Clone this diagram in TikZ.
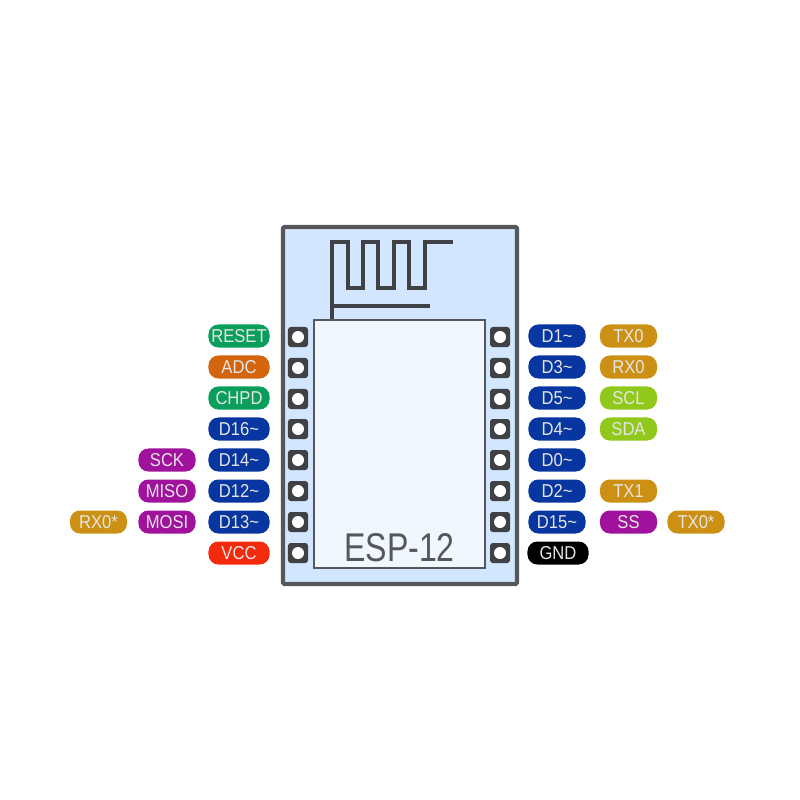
\documentclass[tikz,border=0pt]{standalone}
\usepackage{fontspec}
\setmainfont{Liberation Sans}
\newfontfamily\pinfont[FakeStretch=0.89]{Liberation Sans}
\newfontfamily\titlefont[FakeStretch=0.80]{Liberation Sans}
\usepackage{xcolor}
\definecolor{boardline}{HTML}{55575A}
\definecolor{boardfill}{HTML}{D2E6FF}
\definecolor{chipfill}{HTML}{F1F7FF}
\definecolor{padline}{HTML}{3F4144}
\definecolor{pingreen}{HTML}{0A9E5C}
\definecolor{pinorange}{HTML}{D3650F}
\definecolor{pinblue}{HTML}{0736A0}
\definecolor{pinpurple}{HTML}{A0129C}
\definecolor{pinred}{HTML}{F42A0C}
\definecolor{pingold}{HTML}{CC9014}
\definecolor{pinlime}{HTML}{90C81C}
\tikzset{
  pill/.style={rounded corners=2.8pt, minimum height=0.23cm, inner sep=0pt,
    text=white!90!black, font=\pinfont\fontsize{5.3}{6}\selectfont},
  pinL/.style={pill, minimum width=0.61cm},
  pinR/.style={pill, minimum width=0.57cm},
  pad/.style={fill=padline, minimum size=0.2cm, inner sep=0pt, rounded corners=0.8pt,
    path picture={\fill[white] (path picture bounding box.center) circle (0.06cm);}},
}
\begin{document}
\begin{tikzpicture}[x=0.01cm,y=-0.01cm]
\useasboundingbox (0,0) rectangle (800,800);
\draw[boardline, fill=boardfill, line width=1.2pt, rounded corners=0.4pt] (283,227) rectangle (517,584);
\draw[padline, line width=1.25pt, line join=miter] (332,320) -- (332,242) -- (348,242) -- (348,288) -- (363,288) -- (363,242) -- (378,242) -- (378,288) -- (394,288) -- (394,242) -- (409,242) -- (409,288) -- (425,288) -- (425,242) -- (453,242);
\draw[padline, line width=1.0pt] (332,306) -- (430,306);
\draw[boardline, fill=chipfill, line width=0.7pt] (314,320) rectangle (485,568);
\node (title) at (399.5,548) {\titlefont\fontsize{11.4}{12}\selectfont\color{boardline}ESP-12};

\node[pad] (a1) at (298,337) {};
\node[pad] (a2) at (298,368) {};
\node[pad] (a3) at (298,399) {};
\node[pad] (a4) at (298,429) {};
\node[pad] (a5) at (298,460) {};
\node[pad] (a6) at (298,491) {};
\node[pad] (a7) at (298,522) {};
\node[pad] (a8) at (298,553) {};
\node[pad] (b1) at (500,337) {};
\node[pad] (b2) at (500,368) {};
\node[pad] (b3) at (500,399) {};
\node[pad] (b4) at (500,429) {};
\node[pad] (b5) at (500,460) {};
\node[pad] (b6) at (500,491) {};
\node[pad] (b7) at (500,522) {};
\node[pad] (b8) at (500,553) {};

\node[pinL, fill=pingreen] (reset) at (239,336) {RESET};
\node[pinL, fill=pinorange] (adc) at (239,367) {ADC};
\node[pinL, fill=pingreen] (chpd) at (239,398) {CHPD};
\node[pinL, fill=pinblue] (d16) at (239,429) {D16\textasciitilde};
\node[pinL, fill=pinblue] (d14) at (239,460) {D14\textasciitilde};
\node[pinL, fill=pinblue] (d12) at (239,491) {D12\textasciitilde};
\node[pinL, fill=pinblue] (d13) at (239,522) {D13\textasciitilde};
\node[pinL, fill=pinred] (vcc) at (239,553) {VCC};
\node[pinR, fill=pinpurple] (sck) at (167,460) {SCK};
\node[pinR, fill=pinpurple] (miso) at (167,491) {MISO};
\node[pinR, fill=pinpurple] (mosi) at (167,522) {MOSI};
\node[pinR, fill=pingold] (rxs) at (98.5,522) {RX0*};

\node[pinR, fill=pinblue] (d1) at (557,336) {D1\textasciitilde};
\node[pinR, fill=pinblue] (d3) at (557,367) {D3\textasciitilde};
\node[pinR, fill=pinblue] (d5) at (557,398) {D5\textasciitilde};
\node[pinR, fill=pinblue] (d4) at (557,429) {D4\textasciitilde};
\node[pinR, fill=pinblue] (d0) at (557,460) {D0\textasciitilde};
\node[pinR, fill=pinblue] (d2) at (557,491) {D2\textasciitilde};
\node[pinR, fill=pinblue] (d15) at (557,522) {D15\textasciitilde};
\node[pinL, fill=black] (gnd) at (558,553) {GND};
\node[pinR, fill=pingold] (tx0) at (628.5,336) {TX0};
\node[pinR, fill=pingold] (rx0) at (628.5,367) {RX0};
\node[pinR, fill=pinlime] (scl) at (628.5,398) {SCL};
\node[pinR, fill=pinlime] (sda) at (628.5,429) {SDA};
\node[pinR, fill=pingold] (tx1) at (628.5,491) {TX1};
\node[pinR, fill=pinpurple] (ss) at (628.5,522) {SS};
\node[pinR, fill=pingold] (txs) at (696,522) {TX0*};
\end{tikzpicture}
\end{document}
